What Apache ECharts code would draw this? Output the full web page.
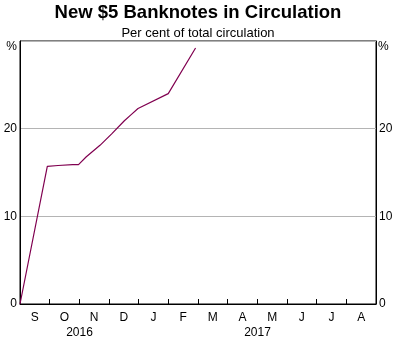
<!DOCTYPE html>
<html><head><meta charset="utf-8">
<script src="https://cdn.jsdelivr.net/npm/echarts@6/dist/echarts.min.js"></script>
<style>html,body{margin:0;padding:0;background:#fff}#c{width:396px;height:343px}</style>
</head><body><div id="c"></div>
<script>
const months = ['S','O','N','D','J','F','M','A','M','J','J','A'];
const years = [{label:'2016', from:'2016-09-01', to:'2017-01-01'}, {label:'2017', from:'2017-01-01', to:'2017-09-01'}];
const dates = ['2016-09-01','2016-09-29','2016-10-10','2016-10-25','2016-10-31','2016-11-08','2016-11-22','2016-12-04','2016-12-17','2016-12-24','2016-12-31','2017-01-31','2017-02-28'];
const values = [0,15.7,15.8,15.9,15.9,16.8,18.1,19.4,20.9,21.6,22.3,24.0,29.2];
const yTicks = [0,10,20,30];
const unit = '%';

const font = 'Liberation Sans, Arial, sans-serif';
const chart = echarts.init(document.getElementById('c'));
const yAxisBase = {
  type:'value', min:0, max:30, interval:10,
  axisLine:{show:true, lineStyle:{color:'#000', width:1}},
  axisTick:{show:false},
  axisLabel:{color:'#000', fontSize:12, fontFamily:font, margin:3, formatter:v => v===30 ? '' : String(v)}
};
chart.setOption({
  animation:false,
  title:[
    {text:'New $5 Banknotes in Circulation', left:'center', top:-2, textStyle:{fontSize:18.5, fontWeight:'bold', color:'#000', fontFamily:font}},
    {text:'Per cent of total circulation', left:'center', top:22, textStyle:{fontSize:13, fontWeight:'normal', color:'#000', fontFamily:font}}
  ],
  grid:{left:20, right:20, top:41, bottom:39, show:true, borderColor:'#000', borderWidth:1, backgroundColor:'transparent'},
  xAxis:[
    {type:'category', data:months, boundaryGap:true, position:'bottom',
     axisLine:{lineStyle:{color:'#000', width:1}},
     axisTick:{show:true, inside:true, length:5, lineStyle:{color:'#000'}},
     axisLabel:{color:'#000', fontSize:12, fontFamily:font, margin:8},
     splitLine:{show:false}},
    {type:'time', min:'2016-09-01', max:'2017-09-01', show:false}
  ],
  yAxis:[
    Object.assign({}, yAxisBase, {position:'left', splitLine:{show:true, lineStyle:{color:'#b4b4b4', width:1}}}),
    Object.assign({}, yAxisBase, {position:'right', splitLine:{show:false}})
  ],
  series:[{
    type:'line', xAxisIndex:1, yAxisIndex:0,
    data: dates.map((d,i)=>[d, values[i]]),
    showSymbol:false, symbol:'none',
    lineStyle:{color:'#800050', width:1.2}
  }]
});
const graphics = years.map(y => {
  const a = chart.convertToPixel({xAxisIndex:1}, y.from);
  const b = chart.convertToPixel({xAxisIndex:1}, y.to);
  return {type:'text', x:(a+b)/2, y:333, style:{text:y.label, fill:'#000', font:'12px '+font, textAlign:'center', textVerticalAlign:'middle'}};
});
const topY = chart.convertToPixel({yAxisIndex:0}, 30);
graphics.push({type:'text', x:17, y:topY+6, style:{text:unit, fill:'#000', font:'12px '+font, textAlign:'right', textVerticalAlign:'middle'}});
graphics.push({type:'text', x:378, y:topY+6, style:{text:unit, fill:'#000', font:'12px '+font, textAlign:'left', textVerticalAlign:'middle'}});
chart.setOption({graphic:graphics});
</script></body></html>
